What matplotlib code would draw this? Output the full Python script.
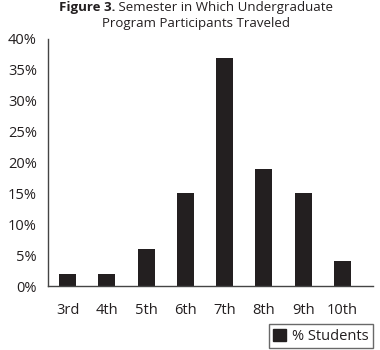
import matplotlib
matplotlib.use("Agg")
import matplotlib.pyplot as plt
from matplotlib.patches import Patch

plt.rcParams['font.family'] = ['Open Sans', 'DejaVu Sans']

semesters = ["3rd", "4th", "5th", "6th", "7th", "8th", "9th", "10th"]
pct_students = [2, 2, 6, 15, 37, 19, 15, 4]
y_ticks = [0, 5, 10, 15, 20, 25, 30, 35, 40]

bar_color = "#231f20"
text_color = "#231f20"

fig = plt.figure(figsize=(3.8, 3.5), dpi=100)
ax = fig.add_axes([48 / 380, 1 - 286 / 350, 325 / 380, 247 / 350])

x = range(len(semesters))
ax.bar(x, pct_students, width=0.43, color=bar_color)

ax.set_xlim(-0.5, 7.78)
ax.set_ylim(0, 40)
ax.set_yticks(y_ticks)
ax.set_yticklabels([f"{v}%" for v in y_ticks])
ax.set_xticks(list(x))
ax.set_xticklabels(semesters)
ax.tick_params(length=0, labelsize=10.5, colors=text_color)
ax.tick_params(axis='x', pad=12)
ax.tick_params(axis='y', pad=8)

for side in ['top', 'right']:
    ax.spines[side].set_visible(False)
for side in ['left', 'bottom']:
    ax.spines[side].set_color("#444444")
    ax.spines[side].set_linewidth(1.0)

# title: bold "Figure 3." followed by regular text
fig.canvas.draw()
r = fig.canvas.get_renderer()
t1 = fig.text(0, 1 - 8 / 350, "Figure 3.", ha='left', va='center',
              fontsize=9.5, fontweight='bold', color=text_color)
t2 = fig.text(0, 1 - 8 / 350, " Semester in Which Undergraduate", ha='left', va='center',
              fontsize=9.5, color=text_color)
w1 = t1.get_window_extent(r).width
w2 = t2.get_window_extent(r).width
x0 = (196 - (w1 + w2) / 2)
t1.set_x(x0 / 380)
t2.set_x((x0 + w1) / 380)
fig.text(196 / 380, 1 - 24 / 350, "Program Participants Traveled", ha='center', va='center',
         fontsize=9.5, color=text_color)

leg = fig.legend(handles=[Patch(color=bar_color, label="% Students")],
                 loc='lower right', bbox_to_anchor=(373 / 380, 1 - 348 / 350),
                 fontsize=10.5, frameon=True, fancybox=False, handlelength=0.9,
                 handleheight=0.9, handletextpad=0.4, borderpad=0.3, borderaxespad=0)
leg.get_frame().set_edgecolor("#444444")
leg.get_frame().set_linewidth(1.0)
for t in leg.get_texts():
    t.set_color(text_color)

fig.savefig("out.png", dpi=100)
